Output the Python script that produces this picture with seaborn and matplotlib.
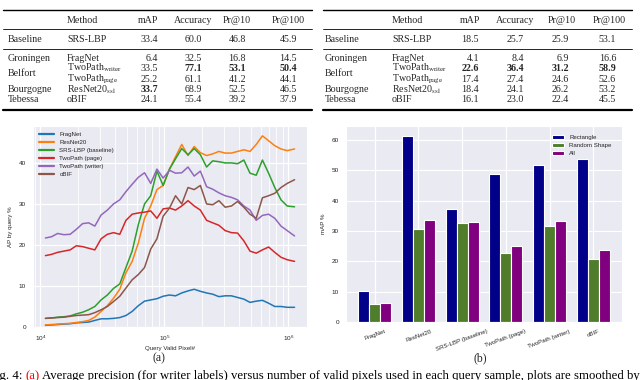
import matplotlib
matplotlib.use('Agg')
import matplotlib.pyplot as plt
import pandas as pd
import seaborn as sns

W, H = 640, 380

# tables (writer labels on the left, page labels on the right)
tab_header = ['Method', 'mAP', 'Accuracy', 'Pr@10', 'Pr@100']
tab_methods = ['SRS-LBP', 'FragNet', r'TwoPath$_{\rm writer}$', r'TwoPath$_{\rm page}$',
               r'ResNet20$_{\rm ssl}$', 'oBIF']
tab_groups = ['Baseline', 'Groningen', 'Belfort', 'Bourgogne', 'Tebessa']
writer_scores = [[33.4, 60.0, 46.8, 45.9],
                 [6.4, 32.5, 16.8, 14.5],
                 [33.5, 77.1, 53.1, 50.4],
                 [25.2, 61.1, 41.2, 44.1],
                 [33.7, 68.9, 52.5, 46.5],
                 [24.1, 55.4, 39.2, 37.9]]
page_scores = [[18.5, 25.7, 25.9, 53.1],
               [4.1, 8.4, 6.9, 16.6],
               [22.6, 36.4, 31.2, 58.9],
               [17.4, 27.4, 24.6, 52.6],
               [18.4, 24.1, 26.2, 53.2],
               [16.1, 23.0, 22.4, 45.5]]

# (a) AP by query vs number of valid pixels
query_pixels = [11000, 12300, 13800, 15500, 17400, 19500, 21900, 24500, 27500, 30900,
                34700, 38900, 43700, 49000, 55000, 61700, 69200, 77600, 87100, 97700,
                110000, 123000, 138000, 155000, 174000, 195000, 219000, 245000, 275000, 309000,
                347000, 389000, 437000, 490000, 550000, 617000, 692000, 776000, 871000, 977000,
                1120000]
ap_fragnet = [0.4, 0.5, 0.6, 0.7, 0.8, 1.0, 1.1, 1.2, 1.6, 2.0,
              2.0, 2.1, 2.3, 2.8, 3.8, 5.2, 6.3, 6.6, 6.9, 7.5,
              7.8, 7.6, 8.3, 8.8, 9.2, 8.7, 8.3, 8.0, 7.4, 7.6,
              7.6, 7.2, 6.8, 6.0, 6.3, 6.5, 5.8, 5.0, 5.0, 4.8,
              4.8]
ap_resnet = [0.5, 0.6, 0.7, 0.8, 0.9, 1.1, 1.3, 1.6, 2.4, 3.8,
             5.2, 7.0, 9.2, 13.2, 16.0, 20.5, 26.5, 29.5, 33.5, 34.5,
             38.5, 41.5, 44.5, 41.8, 44.0, 42.5, 41.8, 42.2, 42.8, 42.4,
             42.4, 42.8, 43.2, 42.8, 44.5, 46.6, 45.4, 44.2, 43.4, 43.0,
             43.4]
ap_srslbp = [2.1, 2.2, 2.4, 2.5, 2.7, 3.2, 3.6, 4.2, 5.0, 6.6,
             7.8, 9.4, 10.5, 14.5, 18.5, 25.0, 30.0, 32.0, 38.0, 34.5,
             38.5, 41.0, 43.5, 42.0, 43.5, 42.0, 39.0, 40.5, 40.3, 40.0,
             40.0, 39.8, 40.7, 37.5, 37.0, 40.7, 37.5, 34.0, 31.0, 29.5,
             29.3]
ap_page = [17.4, 17.7, 18.2, 18.5, 18.8, 19.8, 19.6, 19.2, 18.8, 21.5,
           22.6, 23.0, 22.6, 26.0, 27.5, 27.8, 28.0, 28.3, 26.5, 28.8,
           29.0, 28.5, 29.5, 30.8, 29.5, 28.5, 26.0, 25.4, 24.8, 23.5,
           23.0, 22.9, 21.0, 18.5, 18.0, 18.8, 19.5, 18.2, 17.0, 16.4,
           16.0]
ap_writer = [21.7, 22.0, 22.8, 22.5, 22.6, 23.8, 25.2, 25.4, 24.6, 27.3,
             28.5, 30.0, 31.0, 33.0, 34.8, 36.5, 37.6, 35.0, 38.5, 36.3,
             38.2, 37.5, 37.6, 39.0, 36.8, 38.0, 34.2, 33.6, 32.7, 32.0,
             31.6, 31.0, 29.5, 28.5, 26.0, 27.2, 27.5, 26.5, 24.6, 23.5,
             22.2]
ap_obif = [2.1, 2.2, 2.3, 2.4, 2.6, 2.8, 2.9, 3.0, 3.5, 4.2,
           5.0, 6.2, 7.5, 9.5, 11.5, 12.8, 14.5, 19.0, 21.5, 27.0,
           29.0, 32.0, 30.0, 34.0, 33.5, 34.5, 30.0, 29.8, 30.8, 29.2,
           29.5, 30.6, 29.2, 27.5, 26.5, 31.5, 32.0, 32.6, 34.0, 35.0,
           35.9]
line_methods = ['FragNet', 'ResNet20', 'SRS-LBP (baseline)', 'TwoPath (page)',
                'TwoPath (writer)', 'oBIF']
line_values = [ap_fragnet, ap_resnet, ap_srslbp, ap_page, ap_writer, ap_obif]

# (b) mAP per query shape
bar_shapes = ['Rectangle', 'Random Shape', 'All']
map_rectangle = [10.2, 61.3, 37.4, 48.7, 51.7, 53.7]
map_random = [5.8, 30.8, 32.7, 22.8, 31.6, 20.9]
map_all = [6.1, 33.6, 33.0, 25.0, 33.3, 23.7]

sns.set_style('darkgrid')
plt.rcParams['font.family'] = ['Liberation Sans', 'DejaVu Sans']
plt.rcParams['mathtext.fontset'] = 'stix'

fig = plt.figure(figsize=(W / 100, H / 100), dpi=100)
fig.patch.set_facecolor('white')


def put(x, y, s, **kw):
    # place text at pixel position (x right, y down)
    return fig.text(x / W, 1 - y / H, s, **kw)


def rule(x0, x1, y, lw):
    fig.add_artist(plt.Line2D([x0 / W, x1 / W], [1 - y / H, 1 - y / H],
                              color='black', linewidth=lw, transform=fig.transFigure))


serif = dict(family=['Liberation Serif', 'DejaVu Serif'], fontsize=7.2, va='baseline')
row_base = [42, 61, 71, 81.5, 92, 102]
group_base = [42, 61, 76, 92, 102]


def draw_table(off, xs, scores):
    col_x, num_r, head_c = xs
    rule(off + 3, off + 312, 10, 1.0)
    rule(off + 3, off + 312, 28.5, 0.6)
    rule(off + 3, off + 312, 48.5, 0.6)
    rule(off + 3, off + 312, 109.5, 1.6)
    put(off + col_x[1], 23, tab_header[0], ha='left', **serif)
    for j, name in enumerate(tab_header[1:]):
        put(off + head_c[j], 23, name, ha='center', **serif)
    for g, y in zip(tab_groups, group_base):
        put(off + col_x[0], y, g, ha='left', **serif)
    best = [max(r[j] for r in scores[1:]) for j in range(4)]
    for i, (m, y) in enumerate(zip(tab_methods, row_base)):
        put(off + col_x[1], y, m, ha='left', **serif)
        for j, v in enumerate(scores[i]):
            w = 'bold' if (i > 0 and v == best[j]) else 'normal'
            put(off + num_r[j], y, f'{v:.1f}', ha='right', fontweight=w, **serif)


draw_table(0, ([8, 67], [158, 202, 246, 297], [148, 193, 237, 288]), writer_scores)
draw_table(320, ([5, 72], [159, 204, 249, 296], [150, 195, 242, 289]), page_scores)

# ---- (a) line chart
ax1 = fig.add_axes([33 / W, 1 - 327 / H, 274 / W, 201 / H])
rows = []
for name, vals in zip(line_methods, line_values):
    for px, ap in zip(query_pixels, vals):
        rows.append((px, ap, name))
df_lines = pd.DataFrame(rows, columns=['pixels', 'ap', 'method'])
sns.lineplot(data=df_lines, x='pixels', y='ap', hue='method', hue_order=line_methods,
             palette='tab10', estimator=None, linewidth=1.1, ax=ax1)
ax1.set_xscale('log')
ax1.set_ylim(0, 49)
ax1.set_yticks([0, 10, 20, 30, 40])
ax1.grid(which='major', color='white', linewidth=0.9)
ax1.grid(which='minor', axis='x', color='white', linewidth=0.6)
ax1.tick_params(labelsize=4.6, pad=1.5, colors='#262626')
ax1.set_xlabel('Query Valid Pixel#', fontsize=4.4, labelpad=2)
ax1.set_ylabel('AP by query %', fontsize=4.4, labelpad=4)
leg = ax1.legend(loc='upper left', frameon=False, fontsize=4.4, handlelength=2.6,
                 labelspacing=0.45, borderaxespad=0.5, handletextpad=0.8)
for ln in leg.get_lines():
    ln.set_linewidth(1.6)

# ---- (b) bar chart
ax2 = fig.add_axes([346 / W, 1 - 322 / H, 276 / W, 196 / H])
df_bars = pd.DataFrame({
    'method': line_methods * 3,
    'map': map_rectangle + map_random + map_all,
    'shape': [s for s in bar_shapes for _ in line_methods],
})
sns.barplot(data=df_bars, x='method', y='map', hue='shape', hue_order=bar_shapes,
            palette=['#000088', '#4f7d2b', '#800080'], width=0.75, edgecolor='white',
            linewidth=0.8, saturation=1, ax=ax2)
ax2.xaxis.grid(True, color='white', linewidth=0.9)
ax2.set_xlim(-0.66, 5.66)
ax2.set_ylim(0, 64.6)
ax2.set_xlabel('')
ax2.set_ylabel('mAP %', fontsize=4.4, labelpad=4)
ax2.tick_params(labelsize=4.6, pad=1.5, colors='#262626')
plt.setp(ax2.get_xticklabels(), rotation=20, ha='center', fontsize=4.4)
ax2.legend(loc='upper right', frameon=False, fontsize=4.4, handlelength=2.0,
           handleheight=0.7, labelspacing=0.45, borderaxespad=0.6,
           bbox_to_anchor=(0.985, 0.985))

# ---- sub-captions and figure caption
cap = dict(family=['Liberation Serif', 'DejaVu Serif'], fontsize=9.2, va='baseline')
put(159, 361, '(a)', ha='center', fontsize=8.5,
    family=['Liberation Serif', 'DejaVu Serif'], va='baseline')
put(480, 361, '(b)', ha='center', fontsize=8.5,
    family=['Liberation Serif', 'DejaVu Serif'], va='baseline')

fig.canvas.draw()
rend = fig.canvas.get_renderer()
x = -11
for part, col in [('Fig. 4:', 'black'), ('(a)', 'red'),
                  ('Average precision (for writer labels) versus number of valid pixels used in each query sample, plots are smoothed by',
                   'black')]:
    t = put(x, 379, part, color=col, ha='left', **cap)
    bb = t.get_window_extent(renderer=rend)
    x = bb.x1 + 3

fig.savefig('out.png', dpi=100, facecolor='white')
